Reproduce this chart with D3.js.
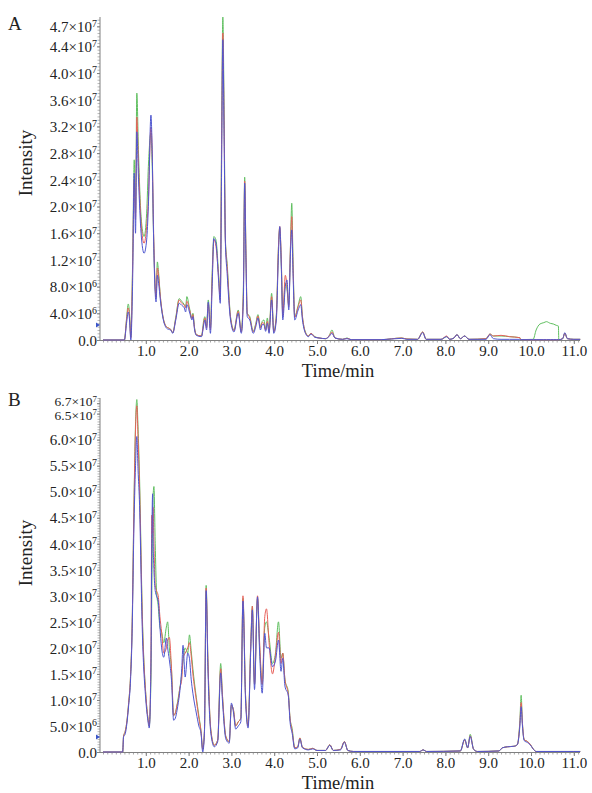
<!DOCTYPE html>
<html><head><meta charset="utf-8">
<script src="https://cdn.jsdelivr.net/npm/d3@7"></script>
<style>
html,body{margin:0;padding:0;background:#fff;}
svg{display:block;}
text{font-family:"Liberation Serif","Times New Roman",serif;fill:#222;}
</style></head>
<body>
<svg id="chart" width="592" height="793"></svg>
<script>
// ---------- DATA (intensity in units of 1e6) ----------
const timesA = [0.00,0.50,0.55,0.59,0.62,0.65,0.69,0.73,0.76,0.79,
 0.83,0.89,0.96,1.02,1.06,1.12,1.15,1.18,1.24,1.27,
 1.30,1.34,1.41,1.48,1.53,1.58,1.63,1.70,1.78,1.84,
 1.90,1.93,1.96,2.02,2.08,2.10,2.14,2.18,2.30,2.36,
 2.38,2.42,2.46,2.51,2.55,2.59,2.64,2.70,2.74,2.77,
 2.80,2.83,2.86,2.90,2.98,3.06,3.16,3.23,3.28,3.31,
 3.34,3.37,3.43,3.51,3.57,3.62,3.68,3.72,3.76,3.80,
 3.84,3.88,3.94,3.99,4.05,4.10,4.13,4.17,4.20,4.26,
 4.30,4.34,4.38,4.41,4.44,4.48,4.56,4.62,4.66,4.73,
 4.80,4.86,4.95,5.05,5.20,5.28,5.35,5.42,5.60,5.70,
 5.80,6.50,6.98,7.10,7.35,7.47,7.55,7.90,8.03,8.10,
 8.20,8.27,8.35,8.45,8.55,8.95,9.04,9.12,9.30,9.50,
 9.74,9.76,10.05,10.12,10.21,10.30,10.36,10.45,10.52,10.59,
 10.64,10.65,10.74,10.79,10.85,11.00,11.15];
const blueA = [0,0,2.5,4.2,3.0,0,8,25,16,31.2,
 24,16,13,15,20,33.7,28,16,5.7,9.7,
 8.5,6,3,1.8,1.6,1.5,1.0,3,5.5,5.2,
 4.8,4.2,5.3,4.2,3.0,3.5,1.5,0.7,0.5,2.5,
 3.0,1.5,5.7,1.0,8,15.2,14.5,9,5.5,25,
 45,30,14.5,10,3,1.2,4.0,1.0,6,23.5,
 12,3.5,3,1.0,2.0,3.3,1.5,2.3,2.3,1.3,
 2.5,1.0,6.0,1.0,3.0,13,17,10,3,8,
 9,4.5,13,16.5,10,3,4.5,5.3,3,1.0,
 0.5,0.9,0.4,0.3,0.2,0.5,1.0,0.3,0.1,0.2,
 0.05,0.05,0.25,0.1,0.1,1.1,0.1,0.1,0.5,0.1,
 0.3,0.8,0.2,0.6,0.1,0.1,0.8,0.2,0.1,0.1,
 0.1,0.05,0.05,0.05,0.05,0.05,0.05,0.05,0.05,0.05,
 0.05,0.05,0.2,1.1,0.2,0.1,0.1];
const redA = [0,0,3.0,4.8,3.5,0.3,10,24,18,33.4,
 26,17.5,14.5,17,21,31.9,28,17,6.3,10.8,
 9.5,6.5,3.2,2.0,1.8,1.6,1.1,3.2,6.0,5.5,
 5.2,4.8,5.8,4.6,3.2,3.8,1.7,0.8,0.6,2.8,
 3.3,1.8,5.5,1.5,9,15,14,9.5,6,28,
 46,32,14.8,11,3.3,1.4,4.3,1.2,7,23.8,
 13,4,3.3,1.2,2.3,3.6,1.8,2.6,2.5,1.5,
 2.8,1.2,6.5,1.2,3.5,14,17,11,3.5,9.7,
 8,5,14,18.5,11,3.4,5.0,6.0,3.5,1.1,
 0.6,1.0,0.45,0.3,0.2,0.6,1.2,0.3,0.1,0.25,
 0.05,0.05,0.3,0.15,0.1,1.2,0.1,0.1,0.6,0.1,
 0.3,0.8,0.2,0.6,0.1,0.2,0.9,0.6,0.7,0.5,
 0.35,0.05,0.05,0.05,0.05,0.05,0.05,0.05,0.05,0.05,
 0.05,0.05,0.2,1.0,0.2,0.1,0.1];
const greenA = [0,0,3.2,5.4,4.0,0.5,11,27,19,37,
 28,18.5,15.5,19,26,31,26,16,6.5,11.7,
 10,6.5,3.2,2.0,1.8,1.6,1.1,3.4,6.2,5.8,
 5.3,5.0,6.5,4.8,3.3,4.0,1.8,0.8,0.6,3.2,
 3.5,2.0,6.0,1.8,10,15.5,15,10,6.5,30,
 48.4,34,15,11.5,3.5,1.5,4.5,1.3,8,24.4,
 13,4,3.5,1.3,2.5,3.8,2.0,2.8,3.0,1.6,
 3.3,1.3,7.0,1.3,3.8,14,16.8,10.5,4,8.5,
 7.5,5.3,14,20.5,12,3.5,5.2,6.5,3.5,1.2,
 0.6,1.0,0.5,0.3,0.2,0.6,1.5,0.3,0.1,0.3,
 0.05,0.05,0.3,0.15,0.1,1.2,0.1,0.1,0.5,0.1,
 0.3,0.8,0.2,0.6,0.1,0.2,0.9,0.6,0.6,0.5,
 0.35,0.05,0.1,1.5,2.4,2.6,2.75,2.5,2.4,2.2,
 2.1,0.05,0.2,1.0,0.2,0.1,0.1];

const timesB = [0.00,0.46,0.48,0.52,0.56,0.60,0.64,0.68,0.72,0.76,
 0.79,0.82,0.85,0.92,1.00,1.05,1.08,1.12,1.14,1.16,
 1.17,1.19,1.22,1.25,1.29,1.33,1.37,1.42,1.48,1.51,
 1.55,1.60,1.65,1.69,1.73,1.76,1.79,1.84,1.87,1.92,
 1.98,2.02,2.06,2.10,2.18,2.24,2.29,2.33,2.37,2.41,
 2.45,2.52,2.60,2.68,2.75,2.79,2.87,2.95,3.00,3.05,
 3.10,3.16,3.22,3.27,3.33,3.39,3.45,3.49,3.54,3.61,
 3.66,3.72,3.78,3.82,3.88,3.96,4.03,4.10,4.16,4.20,
 4.25,4.33,4.37,4.42,4.48,4.55,4.60,4.66,4.80,4.90,
 5.00,5.20,5.30,5.38,5.55,5.64,5.72,5.85,7.40,7.48,
 7.56,8.35,8.45,8.52,8.58,8.66,8.75,9.25,9.33,9.45,
 9.60,9.68,9.74,9.77,9.80,9.84,9.92,9.98,10.05,10.12,
 11.00,11.15];
const blueB = [0,0,2.9,3.5,5.6,9,13.2,22.8,42,55,
 60.6,54,48.5,22.8,10,6,4.6,16.3,40,49.6,
 40.8,35,31,30,29,24,20,18.2,21.9,20,
 17.7,13.8,6.1,6.5,8,9.5,11.3,16,20.5,14.4,
 19,18,14,11.3,7.5,5,3.6,0,3.6,31,
 16.4,3.6,1,2,15.2,10,2.5,1.7,9.4,7.5,
 4.4,5,5.8,29,10,4.6,19,27.3,12,29.8,
 19,11.3,22.8,20,20,16.4,17.5,21.5,15.5,18,
 12.7,10.8,5.8,3.6,0.6,0.8,2.5,0.8,0.4,0.6,
 0.3,0.3,1.3,0.3,0.4,1.9,0.3,0.1,0.1,0.4,
 0.1,0.2,2.5,0.8,3.0,0.5,0.1,0.2,0.8,1.0,
 1.1,1.4,5,8.7,5,2.2,1.8,1.4,0.6,0.1,
 0.1,0.1];
const redB = [0,0,3,4,6,9.5,14,24,45,62,
 66.5,60,52,25,11,6.5,5,18,45.5,42,
 47,40,32,31,30,26,23,19,20,21.5,
 22,16,7,7.5,9,10,12,14,18,19,
 20,21,18.5,15,10,6.5,4,0.5,4,31.5,
 18,4.2,1.3,2.3,16,11,3,2.0,9,8,
 5,5.8,6.5,30,11,5,20,28,13,30,
 21,13,26,27.5,21,15,18.5,23,17,19,
 14,11,6.5,4,0.8,1.0,2.7,0.9,0.5,0.7,
 0.3,0.3,1.4,0.3,0.5,2.0,0.3,0.1,0.1,0.4,
 0.1,0.2,2.3,0.8,3.1,0.5,0.1,0.2,0.8,1.0,
 1.1,1.4,5.5,9.5,5.5,2.4,2,1.5,0.6,0.1,
 0.1,0.1];
const greenB = [0,0,3,4,6,9.5,14,24,46,63,
 67.7,62,54,26,11,6.5,5,14,30,45,
 49,51,40,31,28,24,23,21,24,25,
 20,16,7,7.5,9,10.5,12,15,17.5,20,
 19,22.5,19.5,16,10.5,7,4,0.5,4,32,
 18,4.2,1.3,2.3,17,11,3,2.0,9,8,
 5,5.8,6.5,29.5,11,5,20,28,13,29.5,
 20,13,24,25,22,17,19,25,18,19,
 14,11.5,6.5,4.5,0.8,1.0,2.7,0.9,0.5,0.7,
 0.3,0.3,1.4,0.3,0.5,2.0,0.3,0.1,0.1,0.4,
 0.1,0.2,2.4,0.8,3.4,0.5,0.1,0.2,0.8,1.0,
 1.1,1.4,6,10.9,5.5,2.4,2,1.5,0.6,0.1,
 0.1,0.1];

const xTicks = [1,2,3,4,5,6,7,8,9,10,11];
const xTickLabels = ["1.0","2.0","3.0","4.0","5.0","6.0","7.0","8.0","9.0","10.0","11.0"];
// y ticks in units of 1e6, with label mantissa/exponent
const yTicksA = [0,4,8,12,16,20,24,28,32,36,40,44,47];
const yLabelsA = [["0.0",""],["4.0","6"],["8.0","6"],["1.2","7"],["1.6","7"],["2.0","7"],["2.4","7"],["2.8","7"],["3.2","7"],["3.6","7"],["4.0","7"],["4.4","7"],["4.7","7"]];
const yTicksB = [0,5,10,15,20,25,30,35,40,45,50,55,60,65,67];
const yLabelsB = [["0.0",""],["5.0","6"],["1.0","7"],["1.5","7"],["2.0","7"],["2.5","7"],["3.0","7"],["3.5","7"],["4.0","7"],["4.5","7"],["5.0","7"],["5.5","7"],["6.0","7"],["6.5","7"],["6.7","7"]];

const seriesColors = {green:"#5fbf5f", red:"#e8605a", blue:"#4f57d0"};

// ---------- DRAW ----------
const svg = d3.select("#chart");

function panel(opt){
  const g = svg.append("g");
  const x = d3.scaleLinear().domain([0,11]).range([103,573.8]);
  const y = d3.scaleLinear().domain([0,opt.yMax]).range([opt.y0,opt.yTop]);
  const axisColor = "#808080";

  // minor ticks x
  const xMinor = d3.range(0, 11.15, 0.1);
  g.append("g").attr("transform",`translate(0,${opt.y0})`)
    .call(d3.axisBottom(x).tickValues(xMinor).tickSize(2.5).tickFormat(""))
    .call(s=>s.select(".domain").remove())
    .call(s=>s.selectAll("line").attr("stroke",axisColor).attr("stroke-width",0.7));
  // major x
  const xa = g.append("g").attr("transform",`translate(0,${opt.y0})`)
    .call(d3.axisBottom(x).tickValues(xTicks).tickSize(4).tickPadding(1)
      .tickFormat((d,i)=>xTickLabels[i]));
  xa.select(".domain").remove();
  xa.selectAll("line").attr("stroke",axisColor);
  xa.selectAll("text").attr("font-size",15).attr("fill","#222");

  // minor ticks y
  const yMinor = d3.range(0, opt.yMax+0.01, 0.5);
  g.append("g").attr("transform",`translate(100,0)`)
    .call(d3.axisLeft(y).tickValues(yMinor).tickSize(2.5).tickFormat(""))
    .call(s=>s.select(".domain").remove())
    .call(s=>s.selectAll("line").attr("stroke","#9a9a9a").attr("stroke-width",0.7));
  // major y
  const ya = g.append("g").attr("transform",`translate(100,0)`)
    .call(d3.axisLeft(y).tickValues(opt.yTicks).tickSize(3).tickPadding(3).tickFormat(""));
  ya.select(".domain").remove();
  ya.selectAll("line").attr("stroke",axisColor);
  const n = opt.yTicks.length;
  ya.selectAll(".tick").each(function(d,i){
    const lab = opt.yLabels[i];
    // the top two labels sit very close together: nudge them apart a little
    let shift = 0, fs = 15;
    if (opt.tightTop && i === n-1) { shift = -2; fs = 13.5; }
    if (opt.tightTop && i === n-2) { shift = 1.5; fs = 13.5; }
    const t = d3.select(this).append("text")
      .attr("x",-3).attr("y",shift).attr("dy","0.35em").attr("text-anchor","end")
      .attr("font-size",fs).attr("fill","#222");
    if(lab[1]===""){ t.text(lab[0]); }
    else {
      t.append("tspan").text(lab[0]+"×10");
      t.append("tspan").attr("font-size",fs*0.66).attr("dy","-0.55em").text(lab[1]);
    }
  });

  // axis lines
  g.append("line").attr("x1",100).attr("x2",100).attr("y1",opt.yTop).attr("y2",opt.y0+0.5)
    .attr("stroke",axisColor).attr("stroke-width",1);
  g.append("line").attr("x1",99).attr("x2",580).attr("y1",opt.y0+0.5).attr("y2",opt.y0+0.5)
    .attr("stroke",axisColor).attr("stroke-width",1);

  // traces
  const line = d3.line().x(d=>x(d[0])).y(d=>y(d[1])).curve(d3.curveMonotoneX);
  opt.series.forEach(s=>{
    const pts = opt.times.map((t,i)=>[t, s.values[i]]);
    g.append("path").datum(pts).attr("d",line)
      .attr("fill","none").attr("stroke",s.color).attr("stroke-width",1)
      .attr("stroke-linejoin","round");
  });

  // small blue marker at y axis
  const my = opt.markerY;
  g.append("path").attr("d",`M96,${my-2.5}L100,${my}L96,${my+2.5}Z`).attr("fill","#3a55c8");

  // labels
  g.append("text").attr("x",8).attr("y",opt.letterY).attr("font-size",19).text(opt.letter);
  g.append("text").attr("transform",`translate(32,${opt.intensityY}) rotate(-90)`)
    .attr("text-anchor","middle").attr("font-size",19).text("Intensity");
  g.append("text").attr("x",338).attr("y",opt.y0+37).attr("text-anchor","middle")
    .attr("font-size",18.5).text("Time/min");
}

panel({
  letter:"A", letterY:30, intensityY:163, tightTop:false,
  y0:340, yTop:17, yMax:48.4, markerY:325,
  yTicks:yTicksA, yLabels:yLabelsA, times:timesA,
  series:[{values:greenA,color:seriesColors.green},{values:redA,color:seriesColors.red},{values:blueA,color:seriesColors.blue}]
});
panel({
  letter:"B", letterY:406, intensityY:553, tightTop:true,
  y0:752, yTop:398, yMax:68, markerY:737,
  yTicks:yTicksB, yLabels:yLabelsB, times:timesB,
  series:[{values:greenB,color:seriesColors.green},{values:redB,color:seriesColors.red},{values:blueB,color:seriesColors.blue}]
});
</script>
</body></html>
